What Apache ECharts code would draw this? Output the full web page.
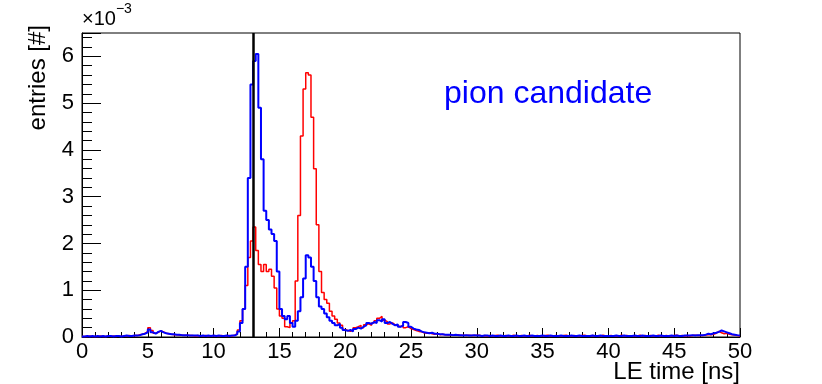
<!DOCTYPE html>
<html>
<head>
<meta charset="utf-8">
<script src="https://cdn.jsdelivr.net/npm/echarts@6/dist/echarts.min.js"></script>
<style>
  html, body { margin: 0; padding: 0; background: #fff; }
  #chart { width: 822px; height: 384px; }
</style>
</head>
<body>
<div id="chart"></div>
<script>
// LE time histogram, bin width 0.2 ns, values in units of 1e-3
const binWidth = 0.2
const xTicks = [0, 5, 10, 15, 20, 25, 30, 35, 40, 45, 50]
const yTicks = [0, 1, 2, 3, 4, 5, 6]
const cutTime = 13

const redVals = [
  0.01,0.01,0.02,0.01,0.01, 0.01,0.02,0.01,0.01,0.02, 0.01,0.02,0.01,0.02,0.01, 0.02,0.02,0.03,0.02,0.03,
  0.03,0.05,0.06,0.08,0.12, 0.20,0.14,0.08,0.10,0.13, 0.11,0.08,0.07,0.06,0.05, 0.05,0.04,0.04,0.03,0.04,
  0.03,0.03,0.02,0.03,0.02, 0.02,0.03,0.02,0.02,0.03, 0.02,0.02,0.03,0.02,0.02, 0.03,0.02,0.04,0.07,0.15,
  0.35,0.60,1.10,1.70,2.05, 2.35,1.85,1.55,1.40,1.55, 1.40,1.45,1.30,1.05,0.60, 0.45,0.40,0.22,0.20,0.30,
  0.35,1.20,2.60,4.30,5.30, 5.65,5.60,4.70,3.60,2.40, 1.40,0.95,0.80,0.72,0.55, 0.45,0.38,0.30,0.25,0.16,
  0.14,0.12,0.15,0.20,0.22, 0.25,0.20,0.26,0.28,0.25, 0.30,0.35,0.40,0.44,0.36, 0.33,0.28,0.30,0.26,0.24,
  0.22,0.25,0.20,0.22,0.18, 0.16,0.14,0.12,0.11,0.09, 0.08,0.09,0.07,0.06,0.07, 0.05,0.06,0.05,0.04,0.05,
  0.04,0.04,0.05,0.03,0.04, 0.03,0.04,0.03,0.03,0.04, 0.04,0.02,0.03,0.02,0.03, 0.02,0.03,0.04,0.02,0.02,
  0.03,0.02,0.02,0.04,0.02, 0.02,0.03,0.02,0.02,0.04, 0.02,0.02,0.03,0.02,0.02, 0.03,0.04,0.02,0.02,0.03,
  0.02,0.02,0.03,0.04,0.02, 0.02,0.03,0.02,0.02,0.03, 0.04,0.02,0.02,0.03,0.02, 0.02,0.02,0.04,0.02,0.02,
  0.03,0.02,0.02,0.02,0.04, 0.02,0.03,0.02,0.02,0.02, 0.02,0.04,0.02,0.03,0.02, 0.03,0.02,0.02,0.04,0.02,
  0.02,0.03,0.02,0.02,0.03, 0.04,0.02,0.03,0.02,0.03, 0.02,0.03,0.04,0.03,0.03, 0.03,0.04,0.05,0.05,0.06,
  0.08,0.12,0.09,0.07,0.08, 0.06,0.05,0.04,0.03,0.02
]

const blueVals = [
  0.01,0.02,0.01,0.02,0.01, 0.02,0.01,0.02,0.01,0.02, 0.02,0.01,0.02,0.02,0.01, 0.02,0.03,0.02,0.02,0.03,
  0.03,0.04,0.06,0.07,0.10, 0.16,0.10,0.07,0.11,0.13, 0.10,0.08,0.07,0.06,0.06, 0.05,0.05,0.04,0.04,0.04,
  0.03,0.03,0.03,0.03,0.02, 0.03,0.02,0.03,0.02,0.03, 0.02,0.03,0.02,0.02,0.03, 0.02,0.03,0.03,0.06,0.12,
  0.30,0.60,1.50,3.40,5.40, 5.90,6.05,4.90,3.80,2.70, 2.50,2.30,2.20,2.05,1.40, 0.60,0.45,0.38,0.45,0.30,
  0.22,0.35,0.55,0.85,1.25, 1.75,1.70,1.50,1.20,0.85, 0.65,0.60,0.50,0.42,0.35, 0.30,0.25,0.28,0.20,0.15,
  0.13,0.15,0.12,0.17,0.20, 0.18,0.22,0.25,0.30,0.28, 0.32,0.30,0.36,0.33,0.38, 0.30,0.32,0.28,0.25,0.27,
  0.22,0.24,0.32,0.30,0.22, 0.18,0.16,0.15,0.12,0.10, 0.09,0.08,0.09,0.07,0.07, 0.06,0.06,0.05,0.05,0.05,
  0.04,0.05,0.04,0.04,0.03, 0.04,0.03,0.03,0.04,0.03, 0.03,0.02,0.03,0.03,0.02, 0.03,0.02,0.02,0.03,0.02,
  0.02,0.03,0.02,0.02,0.03, 0.02,0.02,0.03,0.02,0.02, 0.03,0.02,0.02,0.02,0.03, 0.02,0.02,0.03,0.02,0.02,
  0.02,0.03,0.02,0.02,0.02, 0.03,0.02,0.02,0.03,0.02, 0.02,0.02,0.02,0.03,0.02, 0.02,0.03,0.02,0.02,0.02,
  0.02,0.02,0.03,0.02,0.02, 0.03,0.02,0.02,0.02,0.03, 0.02,0.02,0.03,0.02,0.02, 0.02,0.03,0.02,0.02,0.03,
  0.02,0.02,0.02,0.03,0.02, 0.03,0.02,0.02,0.03,0.03, 0.03,0.04,0.03,0.04,0.04, 0.04,0.05,0.07,0.06,0.08,
  0.09,0.11,0.14,0.12,0.10, 0.08,0.06,0.05,0.04,0.03
]

// step line through bin edges (last value repeated at the right edge)
function toSteps(vals) {
  const pts = vals.map((v, i) => [i * binWidth, v])
  pts.push([vals.length * binWidth, vals[vals.length - 1]])
  return pts
}

const font = "'Liberation Sans', Arial, Helvetica, sans-serif"
const chart = echarts.init(document.getElementById("chart"))

chart.setOption({
  animation: false,
  backgroundColor: "#fff",
  grid: {
    left: 82, right: 82, top: 33, bottom: 47,
    show: true, borderColor: "#000", borderWidth: 1, backgroundColor: "transparent"
  },
  xAxis: {
    type: "value",
    min: xTicks[0], max: xTicks[xTicks.length - 1], interval: 5,
    axisLine: {lineStyle: {color: "#000", width: 1}},
    axisTick: {inside: true, length: 9, lineStyle: {color: "#000"}},
    minorTick: {show: true, splitNumber: 5, length: 5, lineStyle: {color: "#000"}},
    axisLabel: {color: "#000", fontSize: 22, fontFamily: font, margin: 4},
    splitLine: {show: false}
  },
  yAxis: {
    type: "value",
    min: 0, max: 6.5, interval: 1,
    axisLine: {show: true, lineStyle: {color: "#000", width: 1}},
    axisTick: {show: true, inside: true, length: 19, lineStyle: {color: "#000"}},
    minorTick: {show: true, splitNumber: 5, length: 10, lineStyle: {color: "#000"}},
    axisLabel: {
      color: "#000", fontSize: 22, fontFamily: font, margin: 8,
      formatter: (v) => yTicks.includes(v) ? String(v) : ""
    },
    splitLine: {show: false}
  },
  series: [
    {
      name: "red",
      type: "line",
      step: "end",
      symbol: "none",
      data: toSteps(redVals),
      lineStyle: {color: "#ff0000", width: 1.5},
      z: 2
    },
    {
      name: "blue",
      type: "line",
      step: "end",
      symbol: "none",
      data: toSteps(blueVals),
      lineStyle: {color: "#0000ff", width: 2},
      z: 3,
      markLine: {
        silent: true,
        symbol: "none",
        label: {show: false},
        lineStyle: {color: "#000", width: 2.5, type: "solid"},
        data: [{xAxis: cutTime}]
      }
    }
  ],
  graphic: [
    {
      type: "text", left: 444, top: 78,
      style: {text: "pion candidate", fill: "#0000ff", font: "32px " + font}
    },
    {
      type: "text", x: 82, y: 2,
      style: {
        text: "{a|×10}{b|−3}",
        rich: {
          a: {fontSize: 20, fontFamily: font, fill: "#000", verticalAlign: "bottom", padding: [7, 0, 0, 0]},
          b: {fontSize: 14, fontFamily: font, fill: "#000", verticalAlign: "top"}
        }
      }
    },
    {
      type: "text", x: 740, y: 372,
      style: {text: "LE time [ns]", fill: "#000", font: "24px " + font, align: "right", verticalAlign: "middle"}
    },
    {
      type: "text", x: 38, y: 25, rotation: Math.PI / 2,
      style: {text: "entries [#]", fill: "#000", font: "24px " + font, align: "right", verticalAlign: "middle"}
    }
  ]
})
</script>
</body>
</html>
